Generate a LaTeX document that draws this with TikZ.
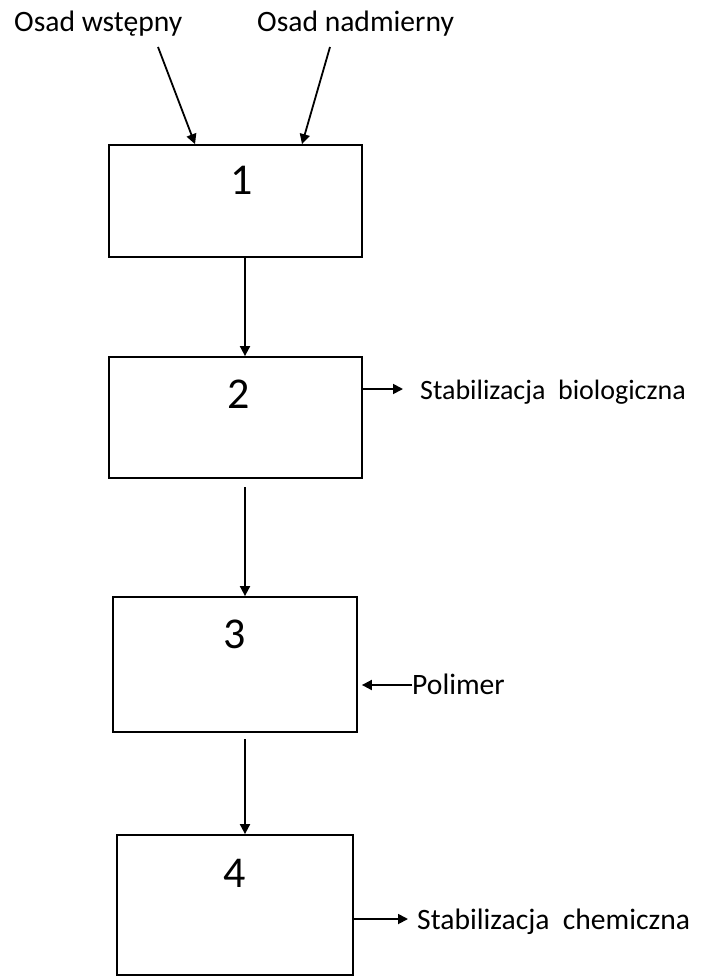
\documentclass[tikz,border=0pt]{standalone}
\usepackage{fontspec}
\setmainfont{Carlito}
\usetikzlibrary{arrows.meta}
\begin{document}
\begin{tikzpicture}[x=1pt,y=-1pt,
  box/.style={draw, line width=1.8pt, rectangle, inner sep=0pt},
  lbl/.style={font=\fontsize{29.6}{36}\selectfont, inner sep=0pt, anchor=base west},
  num/.style={font=\fontsize{44}{52}\selectfont, inner sep=0pt, anchor=base},
  arr/.style={line width=1.8pt, -{Triangle[length=10pt,width=10pt]}}]
\useasboundingbox (0,0) rectangle (703,976);
% boxes
\node[box, minimum width=253pt, minimum height=112pt] (b1) at (235.5,201) {};
\node[box, minimum width=253pt, minimum height=121pt] (b2) at (235.5,417.5) {};
\node[box, minimum width=244pt, minimum height=135pt] (b3) at (235,664.5) {};
\node[box, minimum width=236pt, minimum height=140pt] (b4) at (235,905) {};
% numbers
\node[num] (n1) at (242,195) {1};
\node[num] (n2) at (239,408) {2};
\node[num] (n3) at (235,648) {3};
\node[num] (n4) at (235,887) {4};
% labels
\node[lbl] (ow) at (14,32) {Osad wstępny};
\node[lbl] (on) at (257,32) {Osad nadmierny};
\node[lbl, font=\fontsize{28}{34}\selectfont] (sb) at (420,399) {Stabilizacja\ \ biologiczna};
\node[lbl] (po) at (412,694) {Polimer};
\node[lbl] (sc) at (417,929) {Stabilizacja\ \ chemiczna};
% coordinates
\coordinate (t1s) at (158,47);
\coordinate (t1e) at (195,145);
\coordinate (t2s) at (330,47);
\coordinate (t2e) at (302,145);
\coordinate (a1) at (245,0);
\coordinate (a2s) at (245,487);
\coordinate (a3s) at (245,739);
\coordinate (sbe) at (403,389);
\coordinate (pos) at (412,685);
\coordinate (sce) at (408,919);
% connectors
\draw[arr] (t1s) -- (b1.north -| t1e);
\draw[arr] (t2s) -- (b1.north -| t2e);
\draw[arr] (b1.south -| a1) -- (b2.north -| a1);
\draw[arr] (a2s) -- (a2s |- b3.north);
\draw[arr] (a3s) -- (a3s |- b4.north);
\draw[arr] (b2.east |- sbe) -- (sbe);
\draw[arr, shorten >=4pt] (pos) -- (b3.east |- pos);
\draw[arr] (b4.east |- sce) -- (sce);
\end{tikzpicture}
\end{document}
